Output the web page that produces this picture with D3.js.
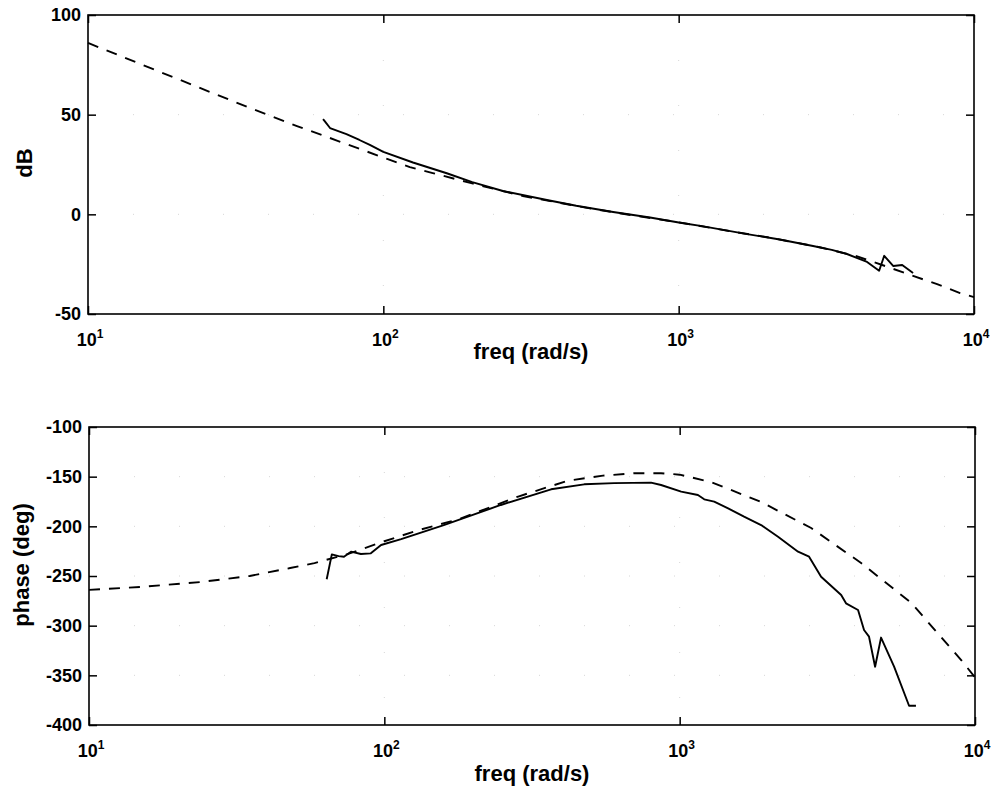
<!DOCTYPE html>
<html>
<head>
<meta charset="utf-8">
<script src="https://cdn.jsdelivr.net/npm/d3@7"></script>
<style>
  body { margin: 0; background: #fff; }
  svg { display: block; font-family: "Liberation Sans", Arial, Helvetica, sans-serif; }
</style>
</head>
<body>
<div id="chart"></div>
<script>
// ===== data =====
// magnitude, dashed = model
const magModelFreq = [10, 15, 22.5, 35, 51, 70, 103, 123, 147, 200, 300, 500, 700, 1000, 1500, 2000, 3000, 4000, 5083, 6219, 7500, 8970, 10000];
const magModelDb   = [86, 75.5, 65, 53.6, 44.3, 36.9, 27.8, 23.7, 20.7, 15.5, 9, 3, -0.5, -4, -8.5, -11.5, -16.5, -21, -26.3, -30.9, -35, -39.5, -41.5];
// magnitude, solid = measured
const magMeasFreq = [62.5, 63.5, 66, 75, 83, 90, 100, 126, 164, 200, 254, 358, 450, 600, 800, 1012, 1200, 1706, 2200, 2851, 3300, 3715, 4345, 4773, 4966, 5324, 5713, 6219];
const magMeasDb   = [47.8, 46.5, 43.3, 40.2, 37.3, 34.8, 31.3, 26.0, 20.6, 16.2, 11.7, 7.2, 4.3, 1.2, -1.6, -4.2, -5.9, -9.9, -12.6, -15.9, -17.8, -19.9, -23.9, -28.3, -20.8, -25.9, -25.4, -29.4];

// phase, dashed = model
const phaseModelFreq = [10, 15, 24, 35, 48, 58, 75, 100, 130, 178, 284, 419, 550, 701, 865, 1000, 1277, 1887, 2788, 4115, 6079, 8980, 10000];
const phaseModelDeg  = [-264, -261, -256, -250, -242, -237, -228, -215, -204, -193, -170, -154, -149, -146.5, -146.5, -148, -155.4, -175.5, -201.7, -236.9, -277, -334.6, -352];
// phase, solid = measured
const phaseMeasFreq = [63.8, 66.4, 70, 73, 77.1, 83.3, 90, 97.5, 114, 159, 248, 367, 475, 600, 800, 865, 1012, 1153, 1211, 1309, 1459, 1652, 1887, 2153, 2517, 2743, 3012, 3523, 3658, 4018, 4210, 4377, 4589, 4807, 5322, 5980, 6310];
const phaseMeasDeg  = [-253.3, -228.2, -230, -230.6, -225.5, -227.9, -227.2, -218.8, -212.8, -198.7, -178.5, -162.7, -157.7, -156.5, -156, -158.4, -165, -168.5, -172.8, -175.2, -181.9, -190.3, -198.7, -210.4, -225.5, -230.6, -250.7, -269.1, -277.5, -284.2, -304.4, -311.1, -341.3, -312, -341.3, -380.6, -380.6];

// ticks
const decades     = [10, 100, 1000, 10000];
const decadeExp   = ["1", "2", "3", "4"];
const magTicks    = [-50, 0, 50, 100];
const phaseTicks  = [-400, -350, -300, -250, -200, -150, -100];

// ===== layout =====
const W = 996, H = 786;
const svg = d3.select("#chart").append("svg")
  .attr("width", W).attr("height", H)
  .attr("viewBox", "0 0 " + W + " " + H);

const zip = (a, b) => a.map((v, i) => [v, b[i]]);

function panel(box, yDomain, yTicks, yLabel, series){
  const x = d3.scaleLog().domain([10, 10000]).range([box.left, box.right]);
  const y = d3.scaleLinear().domain(yDomain).range([box.bottom, box.top]);
  const g = svg.append("g");

  // faded dotted grid (almost gone in the scan)
  const grid = g.append("g").attr("stroke", "#d6d6d6").attr("stroke-width", 1)
    .attr("stroke-dasharray", "1,44");
  for (const d of decades.slice(1, -1)){
    grid.append("line").attr("x1", x(d)).attr("x2", x(d))
      .attr("y1", box.top).attr("y2", box.bottom);
  }
  for (const t of yTicks.slice(1, -1)){
    grid.append("line").attr("x1", box.left).attr("x2", box.right)
      .attr("y1", y(t)).attr("y2", y(t));
  }

  // inside ticks on all four sides
  const tk = 8;
  const axes = [
    [d3.axisBottom(x).tickValues(decades), "translate(0," + box.bottom + ")"],
    [d3.axisTop(x).tickValues(decades), "translate(0," + box.top + ")"],
    [d3.axisLeft(y).tickValues(yTicks), "translate(" + box.left + ",0)"],
    [d3.axisRight(y).tickValues(yTicks), "translate(" + box.right + ",0)"]
  ];
  for (const [ax, tr] of axes){
    const a = g.append("g").attr("transform", tr)
      .call(ax.tickSize(-tk).tickFormat(() => ""));
    a.select(".domain").remove();
    a.selectAll(".tick line").attr("stroke", "#000").attr("stroke-width", 1.5);
  }

  // frame
  g.append("rect")
    .attr("x", box.left).attr("y", box.top)
    .attr("width", box.right - box.left).attr("height", box.bottom - box.top)
    .attr("fill", "none").attr("stroke", "#000").attr("stroke-width", 1.6);

  // y tick labels
  g.append("g").selectAll("text").data(yTicks).join("text")
    .attr("x", box.left - 7).attr("y", d => y(d))
    .attr("dy", "0.36em")
    .attr("text-anchor", "end")
    .attr("font-size", 18).attr("font-weight", "bold")
    .text(d => d);

  // x tick labels 10^n
  const xl = g.append("g").selectAll("text").data(decades).join("text")
    .attr("x", d => x(d) + 2).attr("y", box.bottom + 32)
    .attr("text-anchor", "middle")
    .attr("font-size", 18).attr("font-weight", "bold");
  xl.append("tspan").text("10");
  xl.append("tspan").attr("font-size", 12).attr("dy", -8).text((d, i) => decadeExp[i]);

  // axis titles
  g.append("text")
    .attr("x", (box.left + box.right) / 2).attr("y", box.bottom + box.xlabDy)
    .attr("text-anchor", "middle")
    .attr("font-size", 22).attr("font-weight", "bold")
    .text("freq (rad/s)");
  g.append("text")
    .attr("transform", "translate(" + box.ylabX + "," + box.ylabY + ") rotate(-90)")
    .attr("text-anchor", "middle")
    .attr("font-size", 22).attr("font-weight", "bold")
    .text(yLabel);

  const line = d3.line().x(d => x(d[0])).y(d => y(d[1]));
  for (const s of series){
    g.append("path")
      .datum(s.data)
      .attr("d", line)
      .attr("fill", "none")
      .attr("stroke", "#000")
      .attr("stroke-width", 1.9)
      .attr("stroke-linejoin", "round")
      .attr("stroke-dasharray", s.dash ? "11,9" : null);
  }
}

panel({left: 88, right: 974, top: 15, bottom: 314, ylabX: 32, ylabY: 163, xlabDy: 45},
  [-50, 100], magTicks, "dB",
  [{data: zip(magModelFreq, magModelDb), dash: true},
   {data: zip(magMeasFreq, magMeasDb), dash: false}]);

panel({left: 89, right: 975, top: 427, bottom: 725, ylabX: 29, ylabY: 565, xlabDy: 56},
  [-400, -100], phaseTicks, "phase (deg)",
  [{data: zip(phaseModelFreq, phaseModelDeg), dash: true},
   {data: zip(phaseMeasFreq, phaseMeasDeg), dash: false}]);
</script>
</body>
</html>
